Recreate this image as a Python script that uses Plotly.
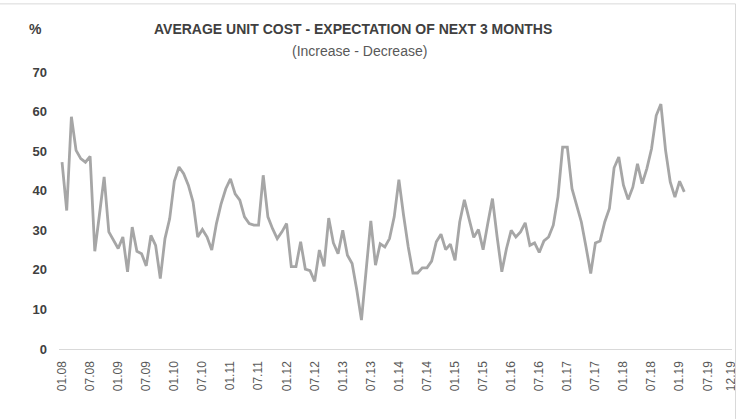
import plotly.graph_objects as go

# Monthly values, 01.08 .. 02.19
values = [
    47.2, 35.0, 58.7, 50.2, 48.1, 47.2, 48.7, 24.7, 34.0, 43.5, 29.6, 27.5,
    25.4, 28.3, 19.5, 30.8, 24.7, 24.1, 21.0, 28.7, 26.2, 17.8, 27.9, 32.9,
    42.4, 46.0, 44.3, 41.4, 37.2, 28.3, 30.2, 28.3, 25.0, 31.7, 36.7, 40.5,
    43.0, 39.2, 37.6, 33.4, 31.7, 31.3, 31.3, 43.9, 33.4, 30.4, 27.9, 29.6,
    31.7, 20.8, 20.8, 27.1, 20.2, 19.8, 17.1, 25.0, 20.9, 33.1, 26.8, 24.1,
    30.0, 23.7, 21.6, 14.9, 7.3, 19.9, 32.4, 21.2, 26.6, 25.8, 27.9, 33.4,
    42.8, 33.8, 25.8, 19.2, 19.2, 20.5, 20.5, 22.2, 27.1, 29.0, 25.1, 26.5,
    22.4, 32.1, 37.7, 32.9, 28.2, 30.2, 25.1, 31.7, 38.0, 28.3, 19.5, 25.4,
    30.0, 28.3, 29.6, 31.9, 26.2, 26.8, 24.4, 27.3, 28.3, 31.3, 38.4, 51.0,
    51.0, 40.5, 36.3, 32.1, 25.8, 19.1, 26.8, 27.3, 32.1, 35.5, 45.8, 48.5,
    41.4, 37.8, 40.9, 46.8, 41.8, 45.6, 50.6, 59.0, 61.9, 50.2, 42.2, 38.4,
    42.4, 39.7,
]
month_index = list(range(len(values)))

tick_positions = list(range(0, 139, 6)) + [143]
tick_labels = [
    "01.08", "07.08", "01.09", "07.09", "01.10", "07.10", "01.11", "07.11",
    "01.12", "07.12", "01.13", "07.13", "01.14", "07.14", "01.15", "07.15",
    "01.16", "07.16", "01.17", "07.17", "01.18", "07.18", "01.19", "07.19",
    "12.19",
]
y_ticks = [0, 10, 20, 30, 40, 50, 60, 70]

FONT = "Liberation Sans, Arial, sans-serif"

fig = go.Figure()
fig.add_trace(go.Scatter(
    x=month_index, y=values, mode="lines",
    line=dict(color="#A6A6A6", width=2.8),
    hoverinfo="skip", showlegend=False,
))

W, H = 738, 419
L, R, T, B = 59.3, 5.5, 71.7, 70
pw, ph = W - L - R, H - T - B


def px(x):
    return (x - L) / pw


def py(y):
    return 1 + (T - y) / ph


fig.update_layout(
    width=W, height=H,
    margin=dict(l=L, r=R, t=T, b=B, autoexpand=False),
    paper_bgcolor="white", plot_bgcolor="white",
    font=dict(family=FONT),
    xaxis=dict(
        range=[-0.65, 143.2], tickmode="array",
        tickvals=tick_positions, ticktext=tick_labels,
        tickangle=-90, tickfont=dict(size=12, color="#595959", family=FONT),
        showgrid=False, zeroline=False, showline=True,
        linecolor="#D9D9D9", linewidth=1.3, ticks="", ticklabelstandoff=6,
        ticklabeloverflow="allow",
    ),
    yaxis=dict(
        range=[0, 70], tickmode="array", tickvals=y_ticks,
        tickfont=dict(size=13, color="#404040", family=FONT, weight="bold"),
        showgrid=False, zeroline=False, showline=False, ticks="",
        ticklabelstandoff=11,
    ),
    annotations=[
        dict(text="<b>AVERAGE UNIT COST - EXPECTATION OF NEXT 3 MONTHS</b>",
             x=px(353.5), y=py(29), xref="paper", yref="paper",
             xanchor="center", yanchor="middle", showarrow=False,
             font=dict(size=14, color="#404040", family=FONT)),
        dict(text="(Increase - Decrease)",
             x=px(360), y=py(51), xref="paper", yref="paper",
             xanchor="center", yanchor="middle", showarrow=False,
             font=dict(size=14, color="#595959", family=FONT)),
        dict(text="<b>%</b>",
             x=px(36), y=py(29), xref="paper", yref="paper",
             xanchor="center", yanchor="middle", showarrow=False,
             font=dict(size=14, color="#404040", family=FONT)),
    ],
    shapes=[
        dict(type="line", xref="paper", yref="paper",
             x0=px(0), x1=px(736), y0=py(3.5), y1=py(3.5),
             line=dict(color="#D9D9D9", width=1)),
        dict(type="line", xref="paper", yref="paper",
             x0=px(736), x1=px(736), y0=py(3.5), y1=py(419),
             line=dict(color="#D9D9D9", width=1)),
    ],
)

fig.write_html(
    "out.html",
    config={"displayModeBar": False, "staticPlot": True},
    post_script="document.body.style.margin='0px';document.body.style.overflow='hidden';",
)
